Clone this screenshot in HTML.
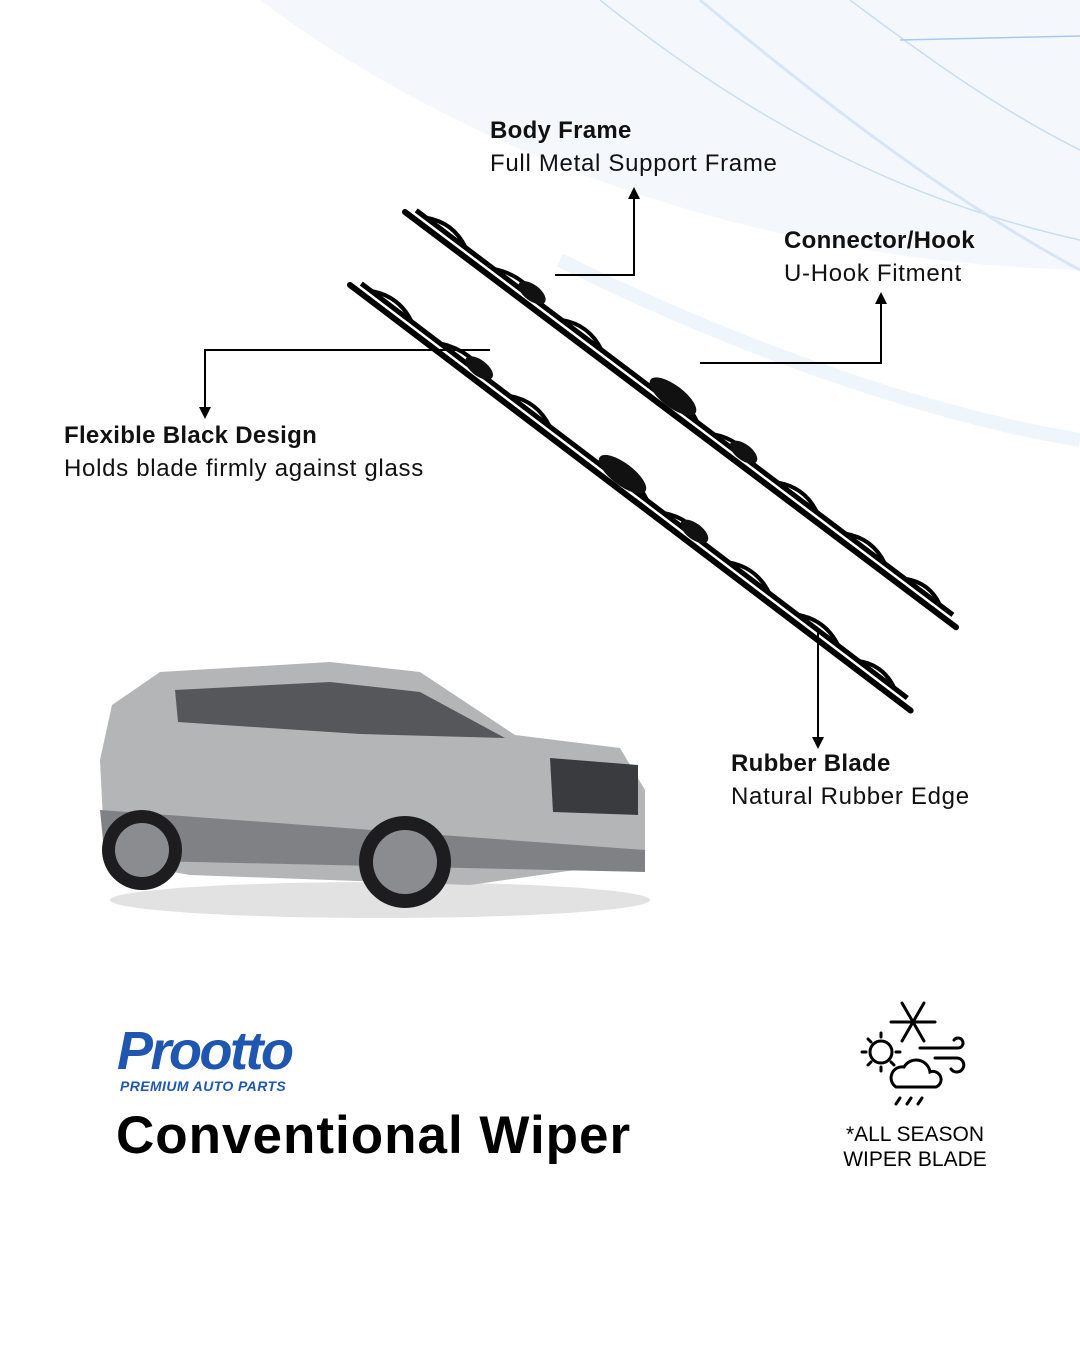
<!DOCTYPE html>
<html><head><meta charset="utf-8"><style>
body{margin:0;width:1080px;height:1350px;background:#fff;position:relative;overflow:hidden;font-family:"Liberation Sans",sans-serif;color:#111}
.t{position:absolute;font-size:24px;line-height:33px;white-space:nowrap;letter-spacing:0.7px}
.t b{font-weight:bold;letter-spacing:0.3px}
</style></head><body>
<svg width="1080" height="1350" style="position:absolute;left:0;top:0">
<defs>
<marker id="ar" markerWidth="6" markerHeight="6" refX="3" refY="3" orient="auto"><path d="M0,0L6,3L0,6z" fill="#000"/></marker>
<g id="wiper">
<line x1="0" y1="0" x2="690" y2="0" stroke="#000" stroke-width="6" stroke-linecap="round"/>
<path d="M8,-8 L680,-8" stroke="#000" stroke-width="5" fill="none"/>
<path d="M20,-8 q25,-13 50,0 M105,-8 q30,-14 60,0 M190,-8 q25,-13 50,0 M300,-8 q30,-16 60,0 M380,-8 q25,-13 50,0 M460,-8 q25,-13 50,0 M545,-8 q25,-13 50,0 M620,-8 q22,-12 44,0" stroke="#000" stroke-width="4" fill="none"/>
<ellipse cx="150" cy="-12" rx="16" ry="8" fill="#111"/>
<ellipse cx="325" cy="-14" rx="28" ry="11" fill="#111"/>
<ellipse cx="415" cy="-12" rx="16" ry="8" fill="#111"/>
</g>
</defs>
<path d="M260,0 C420,120 700,260 1080,270 L1080,0Z" fill="#f4f8fd"/>
<path d="M600,0 C750,120 900,200 1080,240" stroke="#c9def4" stroke-width="1.5" fill="none"/>
<path d="M700,0 C820,100 950,200 1080,270" stroke="#d6e6f6" stroke-width="3" fill="none"/>
<path d="M850,0 C930,60 1000,110 1080,150" stroke="#c6ddf3" stroke-width="1.5" fill="none"/>
<path d="M560,260 C700,330 900,410 1080,440" stroke="#e3eef9" stroke-width="14" fill="none" opacity=".6"/>
<path d="M900,40 L1080,36" stroke="#a9c9ec" stroke-width="1.5"/>
<use href="#wiper" transform="translate(405,212) rotate(37)"/>
<use href="#wiper" transform="translate(350,285) rotate(37.2) scale(1.02,1)"/>
<g stroke="#000" stroke-width="2" fill="none">
<polyline points="555,275 634,275 634,193" marker-end="url(#ar)"/>
<polyline points="700,363 881,363 881,298" marker-end="url(#ar)"/>
<polyline points="490,350 205,350 205,413" marker-end="url(#ar)"/>
<polyline points="818,628 818,743" marker-end="url(#ar)"/>
</g>
<ellipse cx="380" cy="900" rx="270" ry="18" fill="#e2e2e2"/>
<path d="M100,760 L112,705 L160,672 L330,662 L420,672 L515,735 L620,748 L645,790 L645,860 L470,885 L190,875 L105,860 Z" fill="#b4b5b7"/>
<path d="M175,690 L330,682 L420,692 L505,738 L360,734 L178,722Z" fill="#55575b"/>
<path d="M550,758 L638,765 L638,815 L553,812Z" fill="#3a3b3e"/>
<path d="M100,810 L645,850 L645,872 L105,860Z" fill="#7f8184"/>
<circle cx="142" cy="850" r="40" fill="#1d1d1f"/><circle cx="142" cy="850" r="27" fill="#8a8c8f"/>
<circle cx="405" cy="862" r="46" fill="#1d1d1f"/><circle cx="405" cy="862" r="32" fill="#8a8c8f"/>
<g stroke="#000" stroke-width="3" fill="none" stroke-linecap="round">
<g transform="translate(913,1022)"><line x1="-22" y1="0" x2="22" y2="0"/><line x1="-11" y1="-19" x2="11" y2="19"/><line x1="11" y1="-19" x2="-11" y2="19"/></g>
<circle cx="881" cy="1052" r="11"/>
<path d="M862,1052h4M896,1052h4M881,1033v4M881,1067v4M868,1039l3,3M891,1062l3,3M868,1065l3,-3"/>
<path d="M896,1087 a11,11 0 0 1 8,-20 a14,14 0 0 1 26,5 a8,8 0 0 1 6,15 z"/>
<path d="M920,1048h38 a5,5 0 1 0 -4,-8M935,1058h22 a7,7 0 1 1 -6,11"/>
<path d="M896,1104l4,-6M907,1104l4,-6M918,1104l4,-6"/>
</g>
</svg>
<div class="t" style="left:490px;top:114px"><b>Body Frame</b><br>Full Metal Support Frame</div>
<div class="t" style="left:784px;top:224px"><b>Connector/Hook</b><br>U-Hook Fitment</div>
<div class="t" style="left:64px;top:419px"><b>Flexible Black Design</b><br>Holds blade firmly against glass</div>
<div class="t" style="left:731px;top:747px"><b>Rubber Blade</b><br>Natural Rubber Edge</div>
<div style="position:absolute;left:117px;top:1020px;font:italic bold 54px 'Liberation Sans',sans-serif;color:#1f56b0;letter-spacing:-2.5px">Prootto</div>
<div style="position:absolute;left:120px;top:1078px;font:italic bold 14px 'Liberation Sans',sans-serif;color:#1f56b0;letter-spacing:0.4px">PREMIUM AUTO PARTS</div>
<div style="position:absolute;left:116px;top:1105px;font:bold 53px 'Liberation Sans',sans-serif;color:#000;letter-spacing:1px">Conventional Wiper</div>
<div style="position:absolute;left:830px;top:1122px;width:170px;text-align:center;font-size:21px;line-height:25px;color:#000">*ALL SEASON<br>WIPER BLADE</div>
</body></html>
